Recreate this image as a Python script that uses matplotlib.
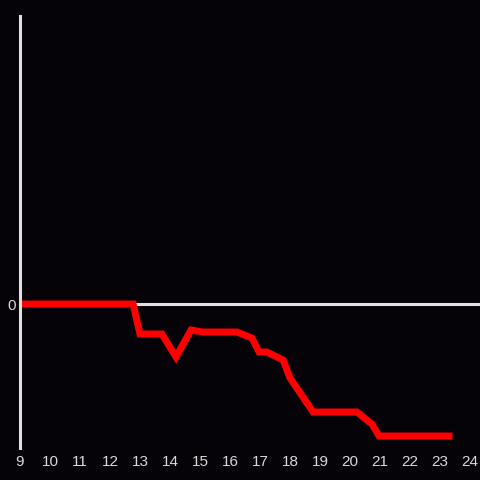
import matplotlib.pyplot as plt

# hours and value (arbitrary units, 0 = baseline)
hours = [9, 12.77, 13.0, 13.73, 14.2, 14.7, 15.1, 16.23, 16.73, 16.97, 17.23,
         17.77, 18.0, 18.77, 20.23, 20.73, 20.97, 23.3]
values = [0, 0, -3.0, -3.0, -5.3, -2.6, -2.8, -2.8, -3.4, -4.8, -4.8,
          -5.6, -7.4, -10.8, -10.8, -12.0, -13.2, -13.2]
xticks = list(range(9, 25))

bg = '#050308'
fg = '#e0e0e0'

fig = plt.figure(figsize=(4.8, 4.8), dpi=100, facecolor=bg)
ax = fig.add_axes([20/480, 32/480, 460/480, 432/480], facecolor=bg)

ax.axhline(0, color=fg, lw=2.2, zorder=1)
ax.plot(hours, values, color='#ff0000', lw=5, solid_joinstyle='miter', zorder=2)

ax.set_xlim(9, 9 + 460/30)
ax.set_ylim(-14.4, 28.8)
ax.set_xticks(xticks)
ax.set_xticklabels([str(t) for t in xticks])
ax.set_yticks([0])
ax.set_yticklabels(['0'])
ax.tick_params(length=0, colors='#d8d8d8', labelsize=11, pad=5)
for lab in ax.get_xticklabels() + ax.get_yticklabels():
    lab.set_fontfamily('Liberation Sans')
ax.tick_params(axis='y', pad=3)

for s in ['top', 'right', 'bottom']:
    ax.spines[s].set_visible(False)
ax.spines['left'].set_color(fg)
ax.spines['left'].set_linewidth(2.2)

fig.savefig('out.png', dpi=100, facecolor=bg)
